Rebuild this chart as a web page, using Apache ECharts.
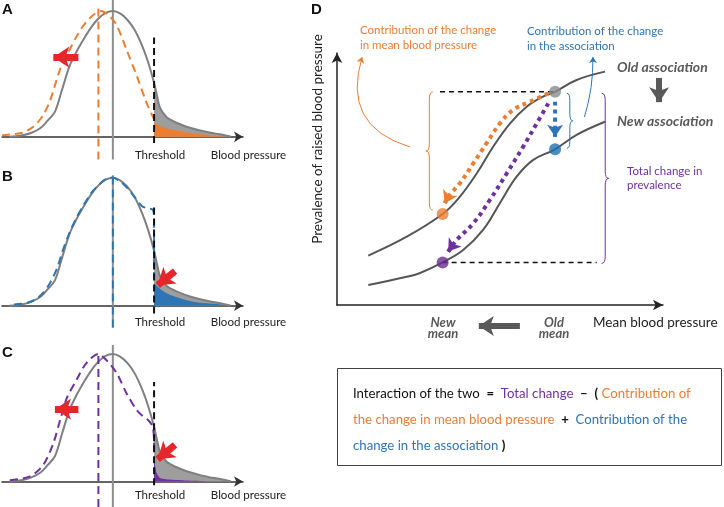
<!DOCTYPE html>
<html><head><meta charset="utf-8">
<script src="https://cdn.jsdelivr.net/npm/echarts@6/dist/echarts.min.js"></script>
<style>html,body{margin:0;padding:0;background:#fff}#c{width:724px;height:507px}</style>
</head><body><div id="c"></div>
<script>
// ---------- Panels A–C : blood pressure distributions (x: blood pressure, y: relative density) ----------
const grayCurve = [[3,0],[8,0.01],[12,0.03],[16,0.07],[19,0.13],[22,0.2],[25,0.38],[28,0.56],[31,0.68],[34,0.78],[37,0.87],[40,0.94],[43,0.985],[46,1.0],[49,0.98],[52,0.93],[55,0.85],[58,0.73],[60.5,0.6],[63.1,0.43],[64.5,0.31],[65.6,0.23],[68.3,0.155],[71,0.125],[73.9,0.1],[78,0.072],[82.2,0.05],[86,0.034],[90.5,0.02],[95,0]];
const orangeDashed = [[0,0.01],[4,0.02],[8,0.03],[13,0.08],[17,0.17],[20,0.29],[24,0.53],[28,0.69],[31,0.8],[34,0.89],[38,0.97],[41,1.0],[44,0.97],[47.5,0.89],[51.7,0.69],[56,0.48],[60,0.27],[63.1,0.14]];
const orangeTail = [[63.1,0.11],[66,0.085],[71,0.056],[78,0.03],[85,0.016],[89,0.008],[92,0]];
const blueDashed = [[5,0.01],[10,0.02],[14,0.05],[17,0.1],[20,0.18],[23,0.3],[25,0.42],[28,0.57],[31,0.69],[34,0.79],[37,0.88],[40,0.94],[43,0.99],[46,1.0],[49,0.97],[52,0.92],[55,0.85],[58,0.78],[60.5,0.76],[62.5,0.75],[63.1,0.7],[63.1,0.18]];
const blueTail = [[63.1,0.175],[65,0.14],[68.3,0.097],[73.9,0.058],[79.4,0.031],[84.9,0.019],[90.5,0.01],[94,0]];
const purpleDashed = [[3.3,0.01],[11.6,0.04],[17.1,0.13],[21.3,0.3],[24.1,0.48],[26.8,0.65],[31,0.8],[35.1,0.93],[40,1.0],[43.4,0.95],[47.6,0.85],[51.7,0.69],[55.9,0.56],[58.6,0.51],[60.7,0.48],[62.5,0.43],[63.1,0.3],[63.1,0.2]];
const purpleTail = [[63.1,0.2],[63.6,0.12],[64.2,0.066],[65.6,0.027],[68,0.018],[71,0.013],[76,0.008],[81,0.005],[84,0]];
const oldMean = 46, newMean = 40, threshold = 63.1;
const shiftArrowA = [[31.7,0.633],[21.3,0.633]];
const shiftArrowC = [[31.7,0.567],[22,0.567]];
const tailArrowB = [[71.8,0.27],[64.6,0.16]];
const tailArrowC = [[71.8,0.287],[64.6,0.175]];
const panelLetters = ['A','B','C','D'];
const axisTexts = ['Threshold','Blood pressure'];

// ---------- Panel D : prevalence vs mean blood pressure ----------
const oldAssoc = [[9.6,19.6],[21.4,27.1],[32.4,36.1],[37.7,43.0],[42.9,52.3],[47.9,62.8],[53.1,72.1],[58.2,78.7],[63.2,82.7],[66.9,84.6],[73.5,89.3],[82.2,92.6]];
const newAssoc = [[9.6,7.9],[21.4,11.2],[25.5,12.7],[32.4,16.9],[38.7,21.8],[44.8,29.8],[50.0,40.5],[55.1,50.9],[60.1,57.5],[66.9,61.8],[73.5,67.5],[82.2,72.7]];
const oldPoint = [66.9,84.6], orangePoint = [32.4,36.1], bluePoint = [66.9,61.8], purplePoint = [32.4,16.9];
const orangePath = [[64.8,84.0],[59.2,80.7],[54.0,77.4],[50.0,72.1],[45.9,64.2],[41.8,56.2],[37.7,48.3],[34.1,43.0],[33.1,40.4]];
const purplePath = [[64.8,80.0],[61.3,72.1],[57.1,62.8],[52.1,52.3],[46.9,41.7],[41.8,32.4],[36.7,25.8],[34.1,21.2]];
const bluePath = [[66.9,80.7],[66.9,66.8]];
const topDash = [[31.6,84.6],[66.9,84.6]];
const bottomDash = [[32.4,16.9],[79.7,16.9]];

const RED='#E5262A', GRAY='#7F7F7F', VGRAY='#8E8E8E', ORANGE='#ED7D31', BLUE='#2E75B6', PURPLE='#7030A0', DARK='#595959', FILL='#9E9E9E';
const FONT = 'Lato, "Open Sans", sans-serif';

const chart = echarts.init(document.getElementById('c'));

const grids = [
  {left:2, top:0, width:241, height:162},
  {left:2, top:166.6, width:241, height:164.7},
  {left:2, top:342.9, width:241, height:164.4},
  {left:337, top:53, width:326, height:252}
];
const xAxes = [], yAxes = [];
for (let i=0;i<3;i++){
  xAxes.push({gridIndex:i, type:'value', min:0, max:100, axisLine:{show:true, onZero:true, symbol:['none','arrow'], symbolSize:[8,9], lineStyle:{color:'#333', width:1.5}}, axisTick:{show:false}, axisLabel:{show:false}, splitLine:{show:false}});
  yAxes.push({gridIndex:i, type:'value', min:-0.2, max:1.087, show:false, splitLine:{show:false}});
}
xAxes.push({gridIndex:3, type:'value', min:0, max:100, axisLine:{show:true, onZero:false, symbol:['none','arrow'], symbolSize:[8,10], lineStyle:{color:'#222', width:1.5}}, axisTick:{show:false}, axisLabel:{show:false}, splitLine:{show:false}});
yAxes.push({gridIndex:3, type:'value', min:0, max:100, axisLine:{show:true, onZero:false, symbol:['none','arrow'], symbolSize:[8,10], lineStyle:{color:'#222', width:1.5}}, axisTick:{show:false}, axisLabel:{show:false}, splitLine:{show:false}});

const series = [];
function line(gi, data, color, width, type, extra){
  series.push(Object.assign({type:'line', xAxisIndex:gi, yAxisIndex:gi, data, showSymbol:false, symbol:'none', silent:true, animation:false,
    lineStyle:{color, width, type}, z:3}, extra||{}));
}
function area(gi, data, color, z){
  series.push({type:'line', xAxisIndex:gi, yAxisIndex:gi, data, symbol:'none', silent:true, animation:false, smooth:0.3,
    lineStyle:{width:0, opacity:0}, areaStyle:{color, opacity:1, origin:'auto'}, z});
}
function arrow(gi, coords, color, width, size, extra){
  series.push(Object.assign({type:'lines', coordinateSystem:'cartesian2d', xAxisIndex:gi, yAxisIndex:gi, silent:true, animation:false, clip:false,
    symbol:['none','arrow'], symbolSize:size, lineStyle:{color, width, opacity:1, curveness:0}, data:[{coords}], z:6}, extra||{}));
}
const panels = [
  {dashed:orangeDashed, dc:ORANGE, tail:orangeTail, vg:[-0.18,1.087], vd:[-0.18,1.05], th:[-0.05,0.79], dm:newMean, arrows:[[shiftArrowA]]},
  {dashed:blueDashed, dc:BLUE, tail:blueTail, vg:[-0.17,1.02], vd:[-0.17,1.03], th:[-0.06,0.78], dm:oldMean, arrows:[[tailArrowB]]},
  {dashed:purpleDashed, dc:PURPLE, tail:purpleTail, vg:[-0.2,1.07], vd:[-0.2,1.0], th:[-0.03,0.78], dm:newMean, arrows:[[shiftArrowC],[tailArrowC]]}
];
panels.forEach((p,i)=>{
  area(i, grayCurve.filter(d=>d[0]>=threshold), FILL, 1);
  area(i, p.tail, p.dc, 2);
  line(i, [[oldMean,p.vg[0]],[oldMean,p.vg[1]]], VGRAY, 2, 'solid');
  line(i, grayCurve, GRAY, 2, 'solid', {smooth:0.35});
  line(i, p.dashed, p.dc, 2, [8,5], {smooth:0.3, z:4});
  line(i, [[p.dm,p.vd[0]],[p.dm,p.vd[1]]], p.dc, 2, [8,5], {z:4});
  line(i, [[threshold,p.th[0]],[threshold,p.th[1]]], '#111', 2, [7,4], {z:5});
  p.arrows.forEach(a=>arrow(i, a[0], RED, 7, 16));
});
// Panel D
line(3, oldAssoc, '#555', 2, 'solid', {smooth:0.4});
line(3, newAssoc, '#555', 2, 'solid', {smooth:0.4});
line(3, topDash, '#111', 1.5, [5,4]);
line(3, bottomDash, '#111', 1.5, [5,4]);
function dotted(data, color, f){
  const n = data.length, tip = data[n-1], prev = data[n-2];
  const start = [tip[0] + (prev[0]-tip[0])*f, tip[1] + (prev[1]-tip[1])*f];
  line(3, data, color, 4, [4,4], {smooth:0.4, z:5, lineStyle:{color, width:4, type:[4,4], cap:'butt'},
    markLine:{silent:true, animation:false, symbol:['none','arrow'], symbolSize:[12,12], label:{show:false},
      lineStyle:{color, width:4, type:'solid'}, data:[[{coord:start},{coord:tip}]]}});
}
dotted(orangePath, ORANGE, 1);
dotted(purplePath, PURPLE, 0.5);
dotted(bluePath, BLUE, 0.2);
series.push({type:'scatter', xAxisIndex:3, yAxisIndex:3, silent:true, animation:false, symbolSize:12, z:7,
  data:[{value:oldPoint, itemStyle:{color:'#8C8C8C'}},{value:orangePoint, itemStyle:{color:ORANGE}},{value:bluePoint, itemStyle:{color:'#1F6FB6'}},{value:purplePoint, itemStyle:{color:'#6A2C91'}}]});
arrow(3, [[22.4,62.7],[7.7,98.4]], ORANGE, 1, 6, {lineStyle:{color:ORANGE, width:1, opacity:1, curveness:0.5}});
arrow(3, [[75.9,74.6],[78.5,98.4]], BLUE, 1, 6, {lineStyle:{color:BLUE, width:1, opacity:1, curveness:-0.08}});
arrow(3, [[98.8,90.1],[98.8,80.5]], DARK, 6, 15);
arrow(3, [[56.1,-8.3],[43.5,-8.3]], DARK, 6, 15);

chart.setOption({animation:false, grid:grids, xAxis:xAxes, yAxis:yAxes, series});

// ---------- annotations ----------
function P(p){ return chart.convertToPixel({gridIndex:3}, p); }
function brace(xd, y1d, y2d, dir, depth, color){
  const a = P([xd,y1d]), b = P([xd,y2d]);
  const x=a[0], t=a[1], bt=b[1], m=(t+bt)/2, r=Math.min(7,(bt-t)/5);
  const xa=x+dir*depth, xt=x+dir*depth*2;
  const st = {stroke:color, fill:'none', lineWidth:1};
  const q = (x1,y1,cx,cy,x2,y2)=>({type:'bezierCurve', silent:true, z:9, shape:{x1,y1,x2,y2,cpx1:cx,cpy1:cy}, style:st});
  const l = (x1,y1,x2,y2)=>({type:'line', silent:true, z:9, shape:{x1,y1,x2,y2}, style:st});
  return [q(x,t,xa,t,xa,t+r), l(xa,t+r,xa,m-r), q(xa,m-r,xa,m,xt,m), q(xt,m,xa,m,xa,m+r), l(xa,m+r,xa,bt-r), q(xa,bt-r,xa,bt,x,bt)];
}
function T(text, x, y, o){
  o = o||{};
  return {type:'text', x, y, rotation:o.rot||0, silent:true, z:10,
    style:{text, fill:o.fill||'#222', fontFamily:o.family||FONT, fontSize:o.size||11, fontWeight:o.weight||'normal', fontStyle:o.style||'normal',
      align:o.align||'left', verticalAlign:o.va||'middle', lineHeight:o.lh||undefined, rich:o.rich}};
}
const g = [];
const L = {family:'"Liberation Sans", Arial, sans-serif', weight:'bold', size:15, fill:'#111'};
g.push(T(panelLetters[0], 2, 10, L), T(panelLetters[1], 2, 177, L), T(panelLetters[2], 2, 353, L), T(panelLetters[3], 311, 10, L));
[155.5, 322.5, 495].forEach(y=>{
  g.push(T(axisTexts[0], 160, y, {align:'center', size:11.5}));
  g.push(T(axisTexts[1], 248.5, y, {align:'center', size:11.5}));
});
g.push(T('Contribution of the change\nin mean blood pressure', 360, 37.5, {fill:ORANGE, size:11.5, lh:15}));
g.push(T('Contribution of the change\nin the association', 527, 38.5, {fill:BLUE, size:11.5, lh:15}));
const BI = {fill:DARK, size:14, weight:'bold', style:'italic'};
g.push(T('Old association', 617, 67, BI), T('New association', 617, 121, BI));
g.push(T('Total change in\nprevalence', 627, 178.5, {fill:PURPLE, size:11.5, lh:14}));
g.push(T('Prevalence of raised blood pressure', 318, 139, {align:'center', size:13.5, rot:Math.PI/2}));
g.push(T('Mean blood pressure', 593, 323, {size:13.5}));
g.push(T('New\nmean', 443, 328.5, Object.assign({}, BI, {size:13, align:'center', lh:11})));
g.push(T('Old\nmean', 554, 328.5, Object.assign({}, BI, {size:13, align:'center', lh:11})));
g.push(...brace(29.4,84.5,37.7,-1,3.5,ORANGE));
g.push(...brace(70.5,84.0,62.2,1,3,BLUE));
g.push(...brace(81.2,84.0,16.5,1,3.5,PURPLE));
g.push({type:'rect', silent:true, z:9, shape:{x:337.5, y:368.5, width:384, height:97}, style:{stroke:'#404040', fill:'none', lineWidth:1}});
g.push(T('{k|Interaction of the two}  {kb|=}  {p|Total change}  {kb|\u2013}  {kb|(} {o|Contribution of}\n{o|the change in mean blood pressure}  {kb|+}  {b|Contribution of the}\n{b|change in the association} {kb|)}', 353, 380.5,
  {va:'top', size:13.2, lh:26, rich:{
    k:{fill:'#111', fontSize:13.2, fontFamily:FONT, lineHeight:26},
    kb:{fill:'#111', fontSize:13.2, fontFamily:FONT, fontWeight:'bold', lineHeight:26},
    p:{fill:PURPLE, fontSize:13.2, fontFamily:FONT, lineHeight:26},
    o:{fill:ORANGE, fontSize:13.2, fontFamily:FONT, lineHeight:26},
    b:{fill:BLUE, fontSize:13.2, fontFamily:FONT, lineHeight:26}}}));
chart.setOption({graphic:g});
</script></body></html>
